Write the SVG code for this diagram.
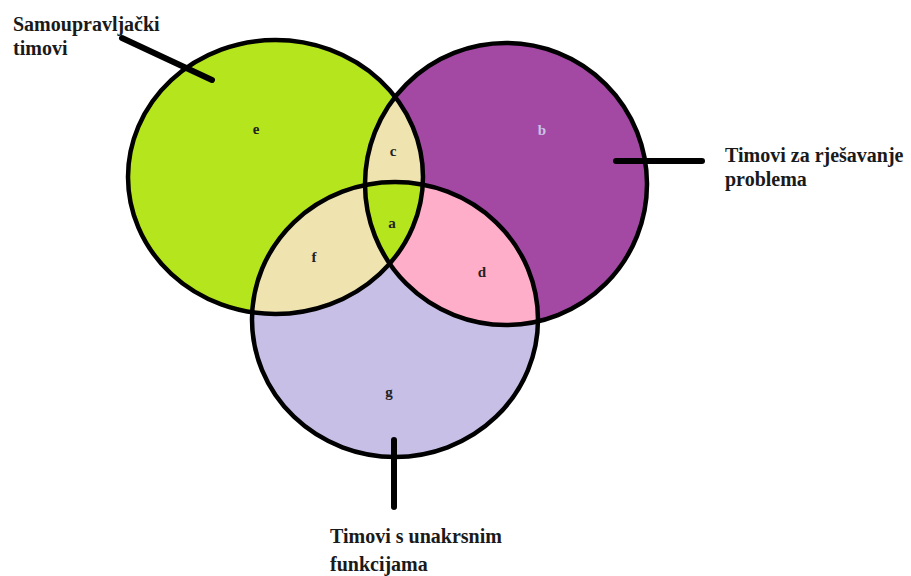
<svg xmlns="http://www.w3.org/2000/svg" width="911" height="576" viewBox="0 0 911 576">
<style>
.lbl{font-weight:bold;font-size:20px;fill:#1a1a1a}
.reg{font-weight:bold;font-size:15px;fill:#222;text-anchor:middle}
.edge{fill:none;stroke:#000;stroke-width:4.5}
.lead{stroke:#000;stroke-width:6;stroke-linecap:round;fill:none}
</style>
<defs>
<ellipse id="eG" cx="275.5" cy="177" rx="147.5" ry="137"/>
<ellipse id="eP" cx="506" cy="184" rx="141" ry="141"/>
<ellipse id="eL" cx="395" cy="319.5" rx="143" ry="137.5"/>
<clipPath id="cG"><use href="#eG"/></clipPath>
<clipPath id="cP"><use href="#eP"/></clipPath>
<clipPath id="cL"><use href="#eL"/></clipPath>
</defs>
<rect width="911" height="576" fill="#fff"/>
<g id="fills">
<use href="#eG" fill="#b5e61d"/>
<use href="#eP" fill="#a349a4"/>
<use href="#eL" fill="#c8bfe7"/>
<g clip-path="url(#cG)"><use href="#eP" fill="#efe4b0"/><use href="#eL" fill="#efe4b0"/></g>
<g clip-path="url(#cP)"><use href="#eL" fill="#ffaec9"/></g>
<g clip-path="url(#cG)"><g clip-path="url(#cP)"><use href="#eL" fill="#b5e61d"/></g></g>
</g>
<g font-family="Liberation Serif, DejaVu Serif, Times New Roman, serif">
<g id="node-samoupravljacki">
<use href="#eG" class="edge"/>
<text class="lbl" x="13" y="31">Samoupravljački</text>
<text class="lbl" x="13" y="55">timovi</text>
<text class="reg" x="256" y="134">e</text>
</g>
<g id="node-rjesavanje">
<use href="#eP" class="edge"/>
<text class="lbl" x="725" y="162">Timovi za rješavanje</text>
<text class="lbl" x="725" y="186">problema</text>
<text class="reg" x="542" y="135" style="fill:#c9c3e6">b</text>
</g>
<g id="node-unakrsne">
<use href="#eL" class="edge"/>
<text class="lbl" x="330" y="543">Timovi s unakrsnim</text>
<text class="lbl" x="330" y="571">funkcijama</text>
<text class="reg" x="389" y="397">g</text>
</g>
<g id="regions">
<text class="reg" x="393" y="156">c</text>
<text class="reg" x="392" y="228">a</text>
<text class="reg" x="314" y="262">f</text>
<text class="reg" x="482" y="277">d</text>
</g>
</g>
<g id="connectors">
<line class="lead" x1="122" y1="38" x2="212" y2="80"/>
<line class="lead" x1="616" y1="161" x2="702" y2="161"/>
<line class="lead" x1="394" y1="440" x2="394" y2="507"/>
</g>
</svg>
